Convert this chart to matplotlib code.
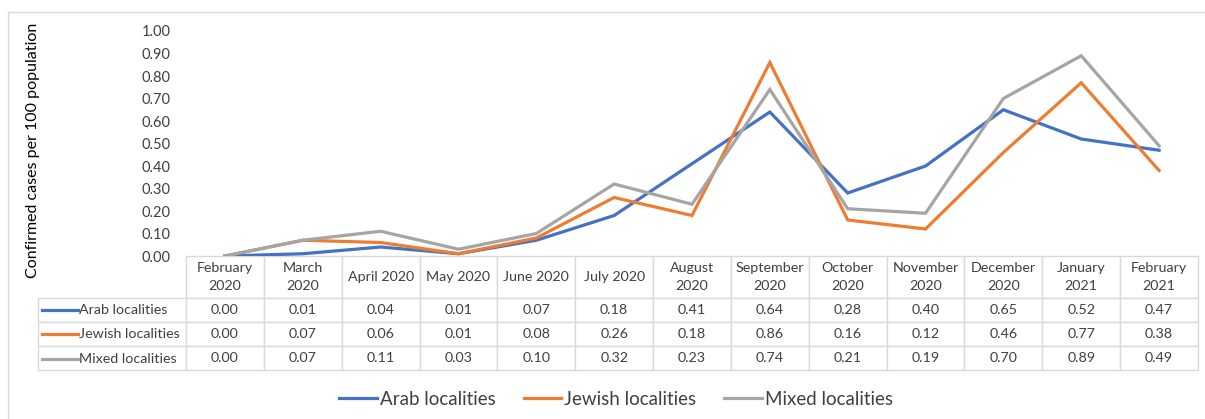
import matplotlib
matplotlib.use('agg')
import matplotlib.pyplot as plt
from matplotlib.patches import Rectangle

# Datos del gráfico (casos confirmados por 100 habitantes)
meses = ['February\n2020', 'March\n2020', 'April 2020', 'May 2020', 'June 2020',
         'July 2020', 'August\n2020', 'September\n2020', 'October\n2020',
         'November\n2020', 'December\n2020', 'January\n2021', 'February\n2021']
arab = [0.00, 0.01, 0.04, 0.01, 0.07, 0.18, 0.41, 0.64, 0.28, 0.40, 0.65, 0.52, 0.47]
jewish = [0.00, 0.07, 0.06, 0.01, 0.08, 0.26, 0.18, 0.86, 0.16, 0.12, 0.46, 0.77, 0.38]
mixed = [0.00, 0.07, 0.11, 0.03, 0.10, 0.32, 0.23, 0.74, 0.21, 0.19, 0.70, 0.89, 0.49]
series_names = ['Arab localities', 'Jewish localities', 'Mixed localities']
colores = ['#4472C4', '#ED7D31', '#A5A5A5']

plt.rcParams['font.family'] = ['Lato', 'DejaVu Sans']
texto = '#404040'

W, H = 1205, 419
fig = plt.figure(figsize=(W / 100, H / 100), dpi=100)

# borde exterior
fig.patches.append(Rectangle((8 / W, -0.05), 1.5, 1 - 12 / H + 0.05, transform=fig.transFigure,
                             fill=False, edgecolor='#d9d9d9', linewidth=1))

x0, x1, y0, y1 = 186, 1198, 256, 31
ax = fig.add_axes([x0 / W, 1 - y0 / H, (x1 - x0) / W, (y0 - y1) / H])
aw, ah = x1 - x0, y0 - y1

xs = range(len(meses))
for vals, name, c in zip([arab, jewish, mixed], series_names, colores):
    ax.plot(xs, vals, color=c, linewidth=2.3, label=name, solid_joinstyle='miter')

ax.set_xlim(-0.5, len(meses) - 0.5)
ax.set_ylim(0, 1.0)
ax.set_yticks([i / 10 for i in range(11)])
ax.set_yticklabels([f'{i / 10:.2f}' for i in range(11)])
ax.tick_params(axis='y', length=0, pad=11, labelsize=10.5, labelcolor=texto)
ax.set_xticks([])
for s in ax.spines.values():
    s.set_visible(False)

fig.text(33 / W, 1 - 150 / H, 'Confirmed cases per 100 population', rotation=90,
         ha='center', va='center', fontsize=11.5, color='#000000')

# tabla de datos (el bbox cubre solo la rejilla; las etiquetas de fila quedan a la izquierda)
cell_text = [[f'{v:.2f}' for v in row] for row in [arab, jewish, mixed]]
alto_cab, alto_fila = 42 / ah, 24 / ah
th = alto_cab + 3 * alto_fila
tabla = ax.table(cellText=cell_text, rowLabels=['', '', ''], colLabels=meses,
                 cellLoc='center', bbox=[0, -th, 1, th])
tabla.auto_set_font_size(False)
tabla.set_fontsize(10.3)
tabla._autoColumns = []  # ancho fijo para la columna de etiquetas
for (r, c), cell in tabla.get_celld().items():
    cell.set_edgecolor('#d9d9d9')
    cell.set_linewidth(1)
    cell.get_text().set_color(texto)
    cell.set_width(148 / aw if c == -1 else 1 / len(meses))
    cell.set_height(alto_cab if r == 0 else alto_fila)
    if r == 0:
        cell.get_text().set_linespacing(1.5)

# claves de color en las etiquetas de fila
fila_y = [310, 334, 358.5]
for fy, name, c in zip(fila_y, series_names, colores):
    yy = (y0 - fy) / ah
    ax.plot([(42 - x0) / aw, (78 - x0) / aw], [yy, yy], color=c, linewidth=2.3,
            transform=ax.transAxes, clip_on=False)
    ax.text((79 - x0) / aw, yy, name, transform=ax.transAxes, ha='left', va='center',
            fontsize=10.3, color=texto)

fig.legend(loc='center', bbox_to_anchor=(616 / W, 1 - 399 / H), ncol=3, frameon=False,
           fontsize=13.5, handlelength=2.0, handletextpad=0.15, columnspacing=1.5,
           labelcolor=texto)

fig.savefig('out.png', dpi=100)
